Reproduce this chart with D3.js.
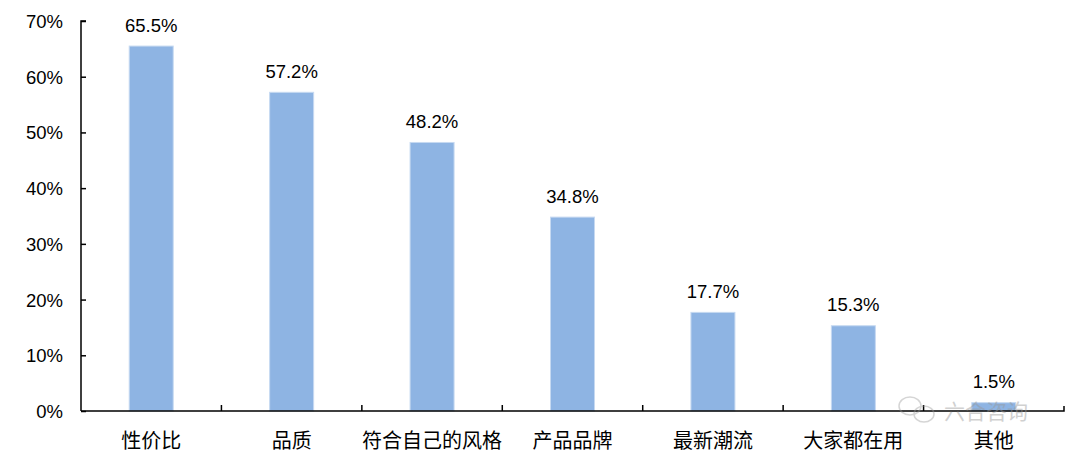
<!DOCTYPE html>
<html><head><meta charset="utf-8">
<script src="https://cdn.jsdelivr.net/npm/d3@7"></script>
<style>body{margin:0;background:#fff}svg{display:block}</style>
</head><body>
<svg id="c" width="1080" height="462"></svg>
<script>
const categories = ["性价比","品质","符合自己的风格","产品品牌","最新潮流","大家都在用","其他"];
const values = [65.5, 57.2, 48.2, 34.8, 17.7, 15.3, 1.5];
const yTicks = [0,10,20,30,40,50,60,70];

const svg = d3.select("#c");
const font = "'Liberation Sans', Arial, 'Noto Sans CJK SC', sans-serif";
const x = d3.scaleBand().domain(categories).range([81, 1064]).paddingInner(0).paddingOuter(0);
const y = d3.scaleLinear().domain([0,70]).range([411, 21]);
const barW = 44;

// bars
svg.append("g").selectAll("rect").data(values).join("rect")
  .attr("x",(d,i)=>x(categories[i])+x.bandwidth()/2-barW/2)
  .attr("y",d=>y(d))
  .attr("width",barW)
  .attr("height",d=>y(0)-y(d))
  .attr("fill","#8eb4e3")
  .attr("stroke","#c6d9f1").attr("stroke-width",1);

// value labels
svg.append("g").selectAll("text").data(values).join("text")
  .attr("x",(d,i)=>x(categories[i])+x.bandwidth()/2)
  .attr("y",d=>y(d)-14.5)
  .attr("text-anchor","middle")
  .attr("font-family",font).attr("font-size",18.5).attr("fill","#000")
  .text(d=>d.toFixed(1)+"%");

// y axis
const yAxis = d3.axisRight(y).tickValues(yTicks).tickSize(5).tickFormat(d=>d+"%");
const gy = svg.append("g").attr("transform","translate(81,0)").call(yAxis);
gy.select(".domain").attr("stroke","#000").attr("stroke-width",1.5).attr("d","M5,21H0V411");
gy.selectAll(".tick line").attr("stroke","#000").attr("stroke-width",1.5);
gy.selectAll(".tick text").attr("x",-18).attr("text-anchor","end").attr("dy","0.35em")
  .attr("font-family",font).attr("font-size",18.5).attr("fill","#000");

// x axis
const xAxis = d3.axisBottom(x).tickSize(0);
const gx = svg.append("g").attr("transform","translate(0,411)").call(xAxis);
gx.select(".domain").attr("stroke","#000").attr("stroke-width",1.5).attr("d","M81,0H1064V-5");
gx.selectAll(".tick text").attr("y",30).attr("dy","0.35em")
  .attr("font-family","'Noto Sans CJK SC', sans-serif").attr("font-size",20).attr("fill","#000");
// separator ticks between categories
const seps = categories.slice(1).map(c=>x(c));
svg.append("g").selectAll("line").data(seps).join("line")
  .attr("x1",d=>d).attr("x2",d=>d).attr("y1",411).attr("y2",405)
  .attr("stroke","#000").attr("stroke-width",1.5);

// watermark
svg.append("text").attr("x",944).attr("y",419).attr("font-family","'Noto Sans CJK SC', sans-serif")
  .attr("font-size",21).attr("fill","#999").attr("opacity",0.45).text("六合咨询");
const wm = svg.append("g").attr("opacity",0.4).attr("fill","none").attr("stroke","#999").attr("stroke-width",1.5);
wm.append("ellipse").attr("cx",910).attr("cy",406).attr("rx",11).attr("ry",9);
wm.append("ellipse").attr("cx",924).attr("cy",414).attr("rx",10).attr("ry",8);
</script>
</body></html>
